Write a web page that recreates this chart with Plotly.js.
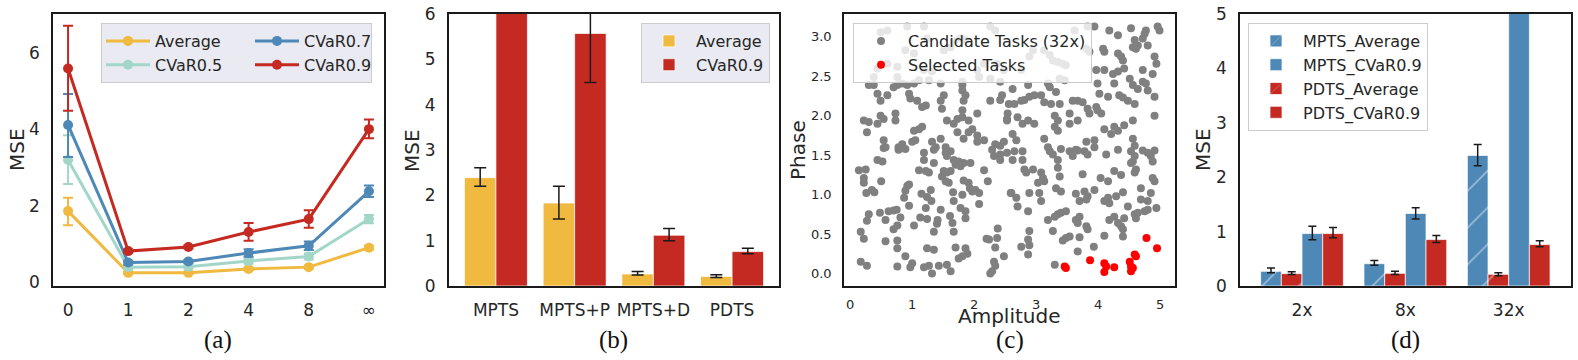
<!DOCTYPE html>
<html>
<head>
<meta charset="utf-8">
<script src="https://cdn.plot.ly/plotly-3.0.1.min.js"></script>
<style>html,body{margin:0;padding:0;background:#fff}</style>
</head>
<body>
<div id="chart" style="width:1578px;height:360px"></div>
<script>
// ---- (a) MSE vs number of ... ----
const lagLabels = ['0', '1', '2', '4', '8', '∞'];
const avgMse  = [1.86, 0.24, 0.24, 0.34, 0.39, 0.90];
const avgHi   = [2.21, 0.27, 0.27, 0.38, 0.43, 0.95];
const avgLo   = [1.49, 0.21, 0.21, 0.30, 0.35, 0.85];
const cv5Mse  = [3.20, 0.39, 0.40, 0.55, 0.67, 1.65];
const cv5Hi   = [3.85, 0.43, 0.44, 0.62, 0.75, 1.76];
const cv5Lo   = [2.57, 0.35, 0.36, 0.48, 0.59, 1.54];
const cv7Mse  = [4.12, 0.51, 0.54, 0.76, 0.95, 2.38];
const cv7Hi   = [4.93, 0.56, 0.58, 0.86, 1.06, 2.53];
const cv7Lo   = [3.28, 0.46, 0.50, 0.66, 0.84, 2.23];
const cv9Mse  = [5.60, 0.81, 0.92, 1.31, 1.65, 4.01];
const cv9Hi   = [6.72, 0.85, 0.96, 1.55, 1.88, 4.26];
const cv9Lo   = [4.49, 0.77, 0.88, 1.08, 1.42, 3.77];

// ---- (b) ablation ----
const methods   = ['MPTS', 'MPTS+P', 'MPTS+D', 'PDTS'];
const abAvg     = [2.39, 1.83, 0.265, 0.21];
const abAvgHi   = [2.61, 2.20, 0.32, 0.25];
const abAvgLo   = [2.20, 1.48, 0.24, 0.19];
const abCvar    = [7.80, 5.57, 1.12, 0.76];
const abCvarHi  = [8.60, 6.70, 1.27, 0.83];
const abCvarLo  = [7.00, 4.49, 1.00, 0.71];

// ---- (c) task space ----
const candAmp = [
  0.54,0.78,0.89,1.19,1.35,1.54,1.62,1.56,1.67,1.75,
  1.83,1.94,1.70,1.78,0.44,0.52,2.29,2.32,2.42,2.53,
  2.42,1.19,1.35,0.14,0.25,0.22,0.22,0.50,1.11,1.22,
  1.27,1.51,1.56,1.62,1.48,1.54,1.59,2.16,2.22,1.83,
  1.91,1.93,2.02,2.08,1.97,0.92,0.95,0.89,0.87,0.95,
  0.26,0.35,0.39,1.15,1.30,1.24,1.31,1.22,1.66,1.67,
  1.81,1.78,1.86,1.86,2.08,2.59,1.46,1.61,1.65,1.41,
  1.40,0.30,0.27,0.48,0.57,0.62,0.70,0.75,0.81,1.13,
  1.24,1.03,0.76,0.70,1.35,1.67,0.17,0.22,0.57,0.76,
  0.76,2.38,2.20,2.24,2.37,2.34,1.24,1.35,1.70,1.86,
  1.89,1.81,1.75,0.89,2.48,0.17,0.27,0.76,1.00,0.97,
  1.19,1.27,1.43,1.56,1.62,1.32,2.32,2.34,2.29,2.26,
  2.65,2.78,2.62,2.78,3.22,3.27,3.35,3.54,3.59,3.64,
  3.78,3.83,4.13,4.32,4.53,4.59,4.53,4.56,4.80,4.85,
  4.88,2.81,2.84,2.95,3.08,3.11,3.03,3.13,3.35,3.38,
  3.75,4.04,4.16,4.26,4.37,4.59,4.61,4.88,4.91,2.60,
  2.68,2.70,2.89,3.05,3.08,3.32,3.40,3.64,3.78,3.83,
  3.81,3.70,3.94,4.10,4.16,4.18,4.29,4.40,4.69,4.85,
  4.69,4.80,4.48,4.59,4.61,4.64,4.75,4.80,4.94,2.87,
  3.19,3.30,3.35,3.40,3.48,3.64,3.70,3.67,4.18,4.26,
  4.32,4.37,4.42,4.40,3.81,3.83,2.89,2.87,2.89,2.76,
  2.87,3.27,3.43,3.48,3.54,3.70,4.10,4.40,3.67,3.93,
  3.30,
  0.38,0.38,0.30,0.76,0.84,0.92,1.03,1.11,1.27,1.46,
  1.81,1.81,2.08,2.26,2.42,0.44,0.49,0.60,0.70,0.76,
  0.95,0.97,1.08,1.16,1.22,1.51,1.46,1.48,1.81,1.86,
  1.83,2.26,2.45,2.42,2.56,0.22,0.30,0.44,0.49,0.54,
  0.73,0.73,1.03,1.11,1.16,1.56,1.67,1.73,1.81,1.81,
  1.91,2.05,1.97,2.53,2.53,0.27,0.54,0.57,0.78,0.84,
  1.00,1.05,1.32,1.38,1.46,1.54,1.73,1.83,1.91,2.05,
  2.05,2.16,2.34,2.42,2.48,
  0.49,0.60,0.92,1.19,1.24,1.67,1.62,1.51,1.78,1.86,
  2.26,2.34,0.60,0.76,0.89,1.03,1.19,1.32,2.05,2.16,
  2.37,2.48,0.44,
  3.94,4.18,4.32,4.53,4.59,4.72,4.75,4.77,4.80,4.96,
  4.99,4.10,4.08,4.32,4.37,4.40,4.56,4.61,4.64,4.91,
  4.94,3.97,4.10,4.24,4.32,4.42,4.72,4.88,3.99,4.02,
  4.26,4.51,4.56,4.72,4.77,4.64,4.80,4.91,4.91,2.62,
  2.87,3.19,3.22,3.38,3.46,3.32,2.65,2.76,2.81,2.89,
  2.97,3.08,3.13,3.24,3.38,3.59,3.67,3.75,3.83,3.86,
  3.97,3.99,4.05,4.16,4.34,4.40,4.48,4.59,2.54,2.70,
  2.78,2.87,2.97,3.13,3.30,3.35,3.30,3.35,3.54,3.54,
  3.67,3.67,3.81,3.94,4.10,4.21,4.26,4.32,4.42,4.56,
  4.59,4.56,4.72,4.91,2.62,2.68,3.19,3.40,3.94,
  2.76,2.95,2.89,3.13,3.22,3.27,3.35,3.43,3.48,3.81,
  3.86,3.62,3.83
];
const candPhase = [
  1.59,1.57,1.58,1.53,1.57,1.53,1.55,1.49,1.44,1.42,
  1.40,1.40,1.38,1.36,1.44,1.42,1.57,1.49,1.51,1.53,
  1.44,1.44,1.40,1.31,1.32,1.21,1.15,1.17,1.31,1.30,
  1.28,1.30,1.28,1.30,1.23,1.17,1.15,1.31,1.17,1.18,
  1.15,1.08,1.06,1.02,1.04,1.11,1.13,1.05,0.96,0.86,
  1.02,1.06,1.03,1.01,1.06,0.97,0.92,0.83,1.03,0.92,
  1.00,0.83,0.79,0.70,0.88,1.02,0.81,0.73,0.64,0.68,
  0.63,0.75,0.67,0.77,0.68,0.79,0.80,0.81,0.71,0.71,
  0.69,0.61,0.61,0.56,0.53,0.53,0.53,0.44,0.41,0.42,
  0.32,0.57,0.44,0.43,0.45,0.33,0.32,0.30,0.33,0.32,
  0.25,0.22,0.19,0.22,0.22,0.15,0.10,0.09,0.13,0.08,
  0.08,0.10,0.10,0.11,0.03,0.00,0.15,0.10,0.03,0.00,
  1.55,1.55,1.44,1.44,1.55,1.51,1.44,1.55,1.49,1.57,
  1.55,1.51,1.51,1.57,1.55,1.49,1.40,1.42,1.53,1.49,
  1.42,1.32,1.28,1.32,1.28,1.21,1.15,1.17,1.34,1.23,
  1.26,1.21,1.17,1.30,1.25,1.28,1.32,1.21,1.17,1.02,
  0.96,0.85,1.02,1.02,0.92,1.08,1.04,1.01,1.04,0.98,
  0.94,0.92,1.06,0.92,0.96,0.89,0.98,1.03,1.08,1.02,
  0.94,0.92,0.85,0.75,0.70,0.77,0.79,0.81,0.83,0.79,
  0.68,0.72,0.75,0.77,0.79,0.68,0.72,0.64,0.68,0.72,
  0.64,0.60,0.70,0.56,0.60,0.56,0.54,0.43,0.36,0.34,
  0.24,0.54,0.42,0.45,0.47,0.46,0.48,0.47,0.28,0.34,
  0.11,
  2.49,2.39,2.39,2.49,2.41,2.39,2.41,2.45,2.45,2.41,
  2.43,2.39,2.49,2.47,2.43,2.28,2.19,2.26,2.36,2.39,
  2.28,2.22,2.19,2.11,2.13,2.26,2.19,2.09,2.32,2.26,
  2.19,2.19,2.26,2.20,2.15,1.94,1.92,1.90,2.00,1.96,
  2.03,1.94,1.81,1.83,1.86,1.94,1.90,1.96,1.98,2.07,
  1.94,2.03,1.83,1.96,1.94,1.79,1.69,1.60,1.60,1.64,
  1.67,1.69,1.67,1.60,1.71,1.60,1.79,1.71,1.79,1.75,
  1.67,1.69,1.64,1.62,1.67,
  3.06,3.08,3.13,3.13,2.98,2.94,2.87,2.83,2.98,2.96,
  3.13,3.08,2.66,2.62,2.83,2.79,2.58,2.56,2.58,2.66,
  2.66,2.58,2.60,
  3.13,3.08,3.02,3.11,2.96,2.98,3.04,3.08,2.89,3.13,
  3.08,2.81,2.85,2.79,2.75,2.70,2.87,2.85,2.89,2.75,
  2.66,2.58,2.58,2.53,2.56,2.60,2.58,2.53,2.41,2.28,
  2.41,2.47,2.39,2.43,2.41,2.34,2.32,2.24,2.00,2.34,
  2.39,2.41,2.36,2.47,2.45,2.30,2.15,2.19,2.20,2.24,
  2.26,2.26,2.17,2.15,2.15,2.19,2.19,2.17,2.09,2.03,
  2.11,2.07,2.03,2.24,2.26,2.23,2.19,2.15,2.03,1.98,
  1.90,1.94,1.90,1.71,2.00,1.94,1.86,1.81,2.03,1.90,
  1.94,1.56,1.67,1.69,1.83,1.77,1.86,1.81,1.88,1.94,
  1.62,1.71,1.56,1.56,1.77,1.69,1.60,1.58,1.60,
  2.58,2.83,2.75,2.83,2.77,2.70,2.68,2.66,2.64,2.85,
  2.81,3.08,3.13
];
const selAmp   = [3.46, 3.48, 3.87, 4.10, 4.13, 4.10, 4.26, 4.51, 4.53, 4.53, 4.56, 4.59, 4.61, 4.78, 4.95];
const selPhase = [0.09, 0.07, 0.17, 0.13, 0.09, 0.02, 0.08, 0.15, 0.09, 0.03, 0.07, 0.24, 0.22, 0.45, 0.32];

// ---- (d) candidate pool size ----
const poolSizes   = ['2x', '8x', '32x'];
const mptsAvg     = [0.27, 0.41, 2.40];
const mptsAvgHi   = [0.33, 0.47, 2.60];
const mptsAvgLo   = [0.245, 0.38, 2.21];
const pdtsAvg     = [0.227, 0.233, 0.215];
const pdtsAvgHi   = [0.26, 0.27, 0.245];
const pdtsAvgLo   = [0.21, 0.21, 0.19];
const mptsCvar    = [0.964, 1.333, 6.5];
const mptsCvarHi  = [1.10, 1.44, 7.0];
const mptsCvarLo  = [0.85, 1.23, 6.0];
const pdtsCvar    = [0.964, 0.854, 0.762];
const pdtsCvarHi  = [1.075, 0.93, 0.83];
const pdtsCvarLo  = [0.885, 0.80, 0.72];

const YELLOW = '#F0B93F';
const TEAL = '#A1D6C9';
const BLUE = '#4D88B6';
const RED = '#C42A21';
const INK = '#262626';
const FONT = 'DejaVu Sans';

function errs(vals, hi, lo, color, thickness, width) {
    return {
        type: 'data', symmetric: false,
        array: hi.map((h, i) => h - vals[i]),
        arrayminus: lo.map((l, i) => vals[i] - l),
        color: color, thickness: thickness, width: width
    };
}

function lineTrace(name, ys, hi, lo, color, group, lw) {
    return {
        x: lagLabels, y: ys, name: name, type: 'scatter', mode: 'lines+markers',
        xaxis: 'x', yaxis: 'y', legend: 'legend', legendgroup: group, legendwidth: lw,
        line: { color: color, width: 3 },
        marker: { color: color, size: 10 },
        error_y: errs(ys, hi, lo, color, 2, 5)
    };
}

function barTrace(name, xs, ys, hi, lo, color, ax, legend, hatch) {
    const t = {
        x: xs, y: ys, name: name, type: 'bar',
        xaxis: 'x' + ax, yaxis: 'y' + ax, legend: legend,
        marker: { color: color, line: { color: 'rgba(255,255,255,0.7)', width: 1 } },
        error_y: errs(ys, hi, lo, '#1a1a1a', 1.5, ax === 2 ? 6 : 4)
    };
    if (hatch) {
        t.marker.pattern = { shape: '/', fgcolor: 'white', bgcolor: color, size: 26, solidity: 0.06, fillmode: 'overlay' };
    }
    return t;
}

const data = [
    lineTrace('Average', avgMse, avgHi, avgLo, YELLOW, 'c1', 90),
    lineTrace('CVaR0.5', cv5Mse, cv5Hi, cv5Lo, TEAL, 'c1', 90),
    lineTrace('CVaR0.7', cv7Mse, cv7Hi, cv7Lo, BLUE, 'c2', 62),
    lineTrace('CVaR0.9', cv9Mse, cv9Hi, cv9Lo, RED, 'c2', 62),

    barTrace('Average', methods, abAvg, abAvgHi, abAvgLo, YELLOW, 2, 'legend2'),
    barTrace('CVaR0.9', methods, abCvar, abCvarHi, abCvarLo, RED, 2, 'legend2'),

    {
        x: candAmp, y: candPhase, name: 'Candidate Tasks (32x)', type: 'scatter', mode: 'markers',
        xaxis: 'x3', yaxis: 'y3', legend: 'legend3',
        marker: { color: '#808080', size: 8 }
    },
    {
        x: selAmp, y: selPhase, name: 'Selected Tasks', type: 'scatter', mode: 'markers',
        xaxis: 'x3', yaxis: 'y3', legend: 'legend3',
        marker: { color: '#FF0000', size: 8 }
    },

    Object.assign(barTrace('MPTS_Average', poolSizes, mptsAvg, mptsAvgHi, mptsAvgLo, BLUE, 4, 'legend4', true), { legendrank: 1 }),
    Object.assign(barTrace('PDTS_Average', poolSizes, pdtsAvg, pdtsAvgHi, pdtsAvgLo, RED, 4, 'legend4', true), { legendrank: 3 }),
    Object.assign(barTrace('MPTS_CVaR0.9', poolSizes, mptsCvar, mptsCvarHi, mptsCvarLo, BLUE, 4, 'legend4'), { legendrank: 2 }),
    Object.assign(barTrace('PDTS_CVaR0.9', poolSizes, pdtsCvar, pdtsCvarHi, pdtsCvarLo, RED, 4, 'legend4'), { legendrank: 4 })
];

const W = 1578, H = 360;
const yDom = [(H - 286) / H, (H - 14) / H];

function xAxis(px0, px1, extra) {
    return Object.assign({
        domain: [px0 / W, px1 / W],
        showline: true, mirror: true, linecolor: '#1a1a1a', linewidth: 1.8,
        ticks: '', showgrid: false, zeroline: false,
        tickfont: { family: FONT, size: 17, color: INK },
        ticklabelstandoff: 8
    }, extra);
}

function yAxis(extra) {
    return Object.assign({
        domain: yDom,
        showline: true, mirror: true, linecolor: '#1a1a1a', linewidth: 1.8,
        ticks: '', showgrid: false, zeroline: false,
        tickfont: { family: FONT, size: 17, color: INK },
        ticklabelstandoff: 8
    }, extra);
}

function legendBox(x, xanchor, bg, extra) {
    return Object.assign({
        x: x, y: (H - 23) / H, xanchor: xanchor, yanchor: 'top',
        bgcolor: bg, bordercolor: '#cccccc', borderwidth: 1,
        font: { family: FONT, size: 16, color: INK },
        itemwidth: 44, tracegroupgap: 0
    }, extra);
}

function subLabel(text, px) {
    return {
        text: text, xref: 'paper', yref: 'paper', x: px / W, y: (H - 340) / H,
        xanchor: 'center', yanchor: 'middle', showarrow: false,
        font: { family: 'Liberation Serif', size: 25, color: '#111' }
    };
}

function axisTitle(text, px, py, angle) {
    return {
        text: text, xref: 'paper', yref: 'paper', x: px / W, y: (H - py) / H,
        xanchor: 'center', yanchor: 'middle', showarrow: false, textangle: angle,
        font: { family: FONT, size: 20, color: INK }
    };
}

const layout = {
    width: W, height: H,
    margin: { l: 0, r: 0, t: 0, b: 0 },
    paper_bgcolor: 'white', plot_bgcolor: 'white',
    barmode: 'group', bargap: 0.2, bargroupgap: 0,
    showlegend: true,

    xaxis: xAxis(53, 384, { anchor: 'y', type: 'category', range: [-0.25, 5.25] }),
    yaxis: yAxis({ anchor: 'x', range: [-0.105, 7.03], tickvals: [0, 2, 4, 6] }),

    xaxis2: xAxis(448.7, 779.3, { anchor: 'y2', type: 'category', range: [-0.6, 3.6] }),
    yaxis2: yAxis({ anchor: 'x2', range: [0, 6], dtick: 1 }),

    xaxis3: xAxis(844, 1175, { anchor: 'y3', range: [-0.1, 5.24], dtick: 1, ticklabelstandoff: 6, tickfont: { family: FONT, size: 13, color: INK } }),
    yaxis3: yAxis({ anchor: 'x3', range: [-0.158, 3.29], dtick: 0.5, tickformat: '.1f', tickfont: { family: FONT, size: 13, color: INK } }),

    xaxis4: xAxis(1240, 1570.7, { anchor: 'y4', type: 'category', range: [-0.6, 2.6] }),
    yaxis4: yAxis({ anchor: 'x4', range: [0, 5], dtick: 1 }),

    legend: legendBox(101 / W, 'left', '#EAEAF2', { orientation: 'h', traceorder: 'grouped' }),
    legend2: legendBox(770 / W, 'right', '#EAEAF2', {}),
    legend3: legendBox(853 / W, 'left', 'rgba(255,255,255,0.8)', {}),
    legend4: legendBox(1248 / W, 'left', 'rgba(255,255,255,0.8)', { traceorder: 'normal' }),

    annotations: [
        subLabel('(a)', 218), subLabel('(b)', 613), subLabel('(c)', 1010), subLabel('(d)', 1405),
        axisTitle('MSE', 17, 150, -90),
        axisTitle('MSE', 412, 150, -90),
        axisTitle('Phase', 798, 150, -90),
        axisTitle('MSE', 1203, 150, -90),
        axisTitle('Amplitude', 1010, 316, 0)
    ]
};

Plotly.newPlot('chart', data, layout, { displayModeBar: false, staticPlot: true });
</script>
</body>
</html>
